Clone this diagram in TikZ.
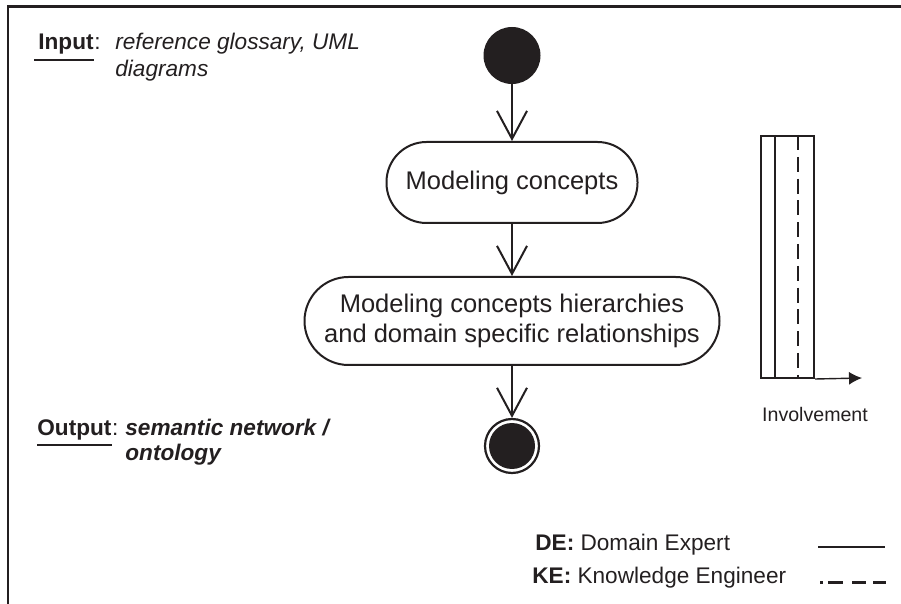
\documentclass[tikz,border=0pt]{standalone}
\usepackage{fontspec}
\setmainfont{Liberation Sans}
\usetikzlibrary{arrows.meta,positioning}
\definecolor{ink}{RGB}{35,31,32}

\begin{document}
\begin{tikzpicture}[x=0.5pt,y=-0.5pt,
  every node/.style={font=\fontsize{11.3}{13.5}\selectfont,text=ink,inner sep=0pt},
  activity/.style={draw=ink,line width=1pt,rounded corners=20pt,align=center,font=\fontsize{12.75}{15}\selectfont},
  flow/.style={draw=ink,line width=1pt,-{Straight Barb[length=14pt,width=15pt]}}]
  \useasboundingbox (0,0) rectangle (901,604);
  \draw[ink,line width=1.1pt] (901,6.5) -- (8,6.5) -- (8,604);
  % activity flow
  \node[circle,fill=ink,minimum size=28.5pt] (start) at (512,55.5) {};
  \node[activity,minimum width=125.5pt,minimum height=40.5pt] (concepts) at (512,182.5) {Modeling concepts};
  \node[activity,minimum width=207.5pt,minimum height=44pt,rounded corners=22pt] (hier) at (512,321) {Modeling concepts hierarchies\\and domain specific relationships};
  \node[circle,draw=ink,line width=1.1pt,minimum size=27pt] (stop) at (512,446) {};
  \node[circle,fill=ink,minimum size=23pt] (stopdot) at (stop) {};
  \foreach \p/\q in {start/concepts,concepts/hier,hier/stop} \draw[flow] (\p) -- (\q);
  % input / output (multi-line text sits on its last baseline)
  \node[anchor=base west,font=\fontsize{11.3}{13.5}\selectfont\bfseries] (inlbl) at (38,50) {Input};
  \node[anchor=base west] (incol) at (inlbl.base east) {:};
  \draw[ink,line width=1pt] ([xshift=-2pt,yshift=-5pt]inlbl.base west) -- ([yshift=-5pt]inlbl.base east);
  \node[anchor=base west,align=left,font=\fontsize{11.3}{13.5}\selectfont\itshape] (intxt) at (115,77) {reference glossary, UML\\diagrams};
  \node[anchor=base west,font=\fontsize{11.3}{12.5}\selectfont\bfseries] (outlbl) at (37,436) {Output};
  \node[anchor=base west] (outcol) at (outlbl.base east) {:};
  \draw[ink,line width=1pt] ([yshift=-4.5pt]outlbl.base west) -- ([yshift=-4.5pt]outlbl.base east);
  \node[anchor=base west,align=left,font=\fontsize{11.3}{12.5}\selectfont\bfseries\itshape] (outtxt) at (125,461) {semantic network /\\ontology};
  % involvement
  \node[draw=ink,line width=1pt,minimum width=26.5pt,minimum height=121pt] (lane) at (787.5,257) {};
  \draw[ink,line width=1pt] ([xshift=7.5pt]lane.north west) -- ([xshift=7.5pt]lane.south west);
  \draw[ink,line width=1pt,dash pattern=on 7.5pt off 3.4pt] ([xshift=19pt]lane.north west) -- ([xshift=19pt]lane.south west);
  \coordinate (axis) at (862,378);
  \draw[ink,line width=0.7pt,-{Latex[length=6.5pt,width=6.5pt]}] (lane.south east) -- (axis);
  \node[below=14pt of lane.south east,font=\fontsize{9.8}{12}\selectfont] (inv) {Involvement};
  % legend
  \node[anchor=base west] (de) at (535,550.7) {\textbf{DE:} Domain Expert};
  \node[anchor=base west] (ke) at (532,583) {\textbf{KE:} Knowledge Engineer};
  \coordinate (deA) at (818,547); \coordinate (deB) at (885,547);
  \coordinate (keA) at (820,582.5); \coordinate (keB) at (886,582.5);
  \draw[ink,line width=1.3pt] (deA) -- (deB);
  \draw[ink,line width=1.3pt,dash pattern=on 1.5pt off 2.5pt on 7.5pt off 4.5pt on 7pt off 3.5pt on 6.5pt] (keA) -- (keB);
\end{tikzpicture}
\end{document}
